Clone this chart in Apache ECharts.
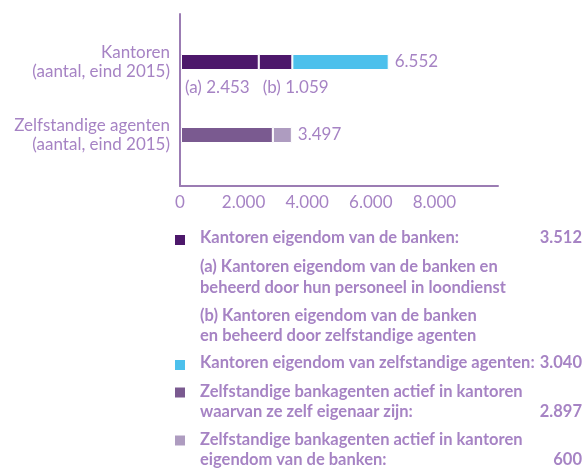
<!DOCTYPE html>
<html>
<head>
<meta charset="utf-8">
<script src="https://cdn.jsdelivr.net/npm/echarts@6/dist/echarts.min.js"></script>
<style>
  html, body { margin: 0; padding: 0; background: #fff; }
  #chart { width: 587px; height: 470px; }
</style>
</head>
<body>
<div id="chart"></div>
<script>
// data
const categories = ['Kantoren\n(aantal, eind 2015)', 'Zelfstandige agenten\n(aantal, eind 2015)']
const bankPersoneel = [2453, null]   // (a)
const bankAgenten = [1059, null]     // (b)
const eigenKantoren = [3040, null]
const agentenEigen = [null, 2897]
const agentenBank = [null, 600]
const xTicks = [0, 2000, 4000, 6000, 8000]

const legendLabels = [
  'Kantoren eigendom van de banken:',
  '(a) Kantoren eigendom van de banken en\nbeheerd door hun personeel in loondienst',
  '(b) Kantoren eigendom van de banken\nen beheerd door zelfstandige agenten',
  'Kantoren eigendom van zelfstandige agenten:',
  'Zelfstandige bankagenten actief in kantoren\nwaarvan ze zelf eigenaar zijn:',
  'Zelfstandige bankagenten actief in kantoren\neigendom van de banken:',
]

const colors = {
  dark: '#4d186b',
  blue: '#4cc0ec',
  mid: '#7a5a90',
  light: '#ae9cc0',
  text: '#a683c4',
  axis: '#9b7cb3',
}
const font = 'Lato'

// 1.234 notatie
function fmt(v) {
  return String(v).replace(/\B(?=(\d{3})+(?!\d))/g, '.')
}

const totals = categories.map((c, i) =>
  [bankPersoneel, bankAgenten, eigenKantoren, agentenEigen, agentenBank]
    .reduce((s, arr) => s + (arr[i] || 0), 0))

const legendValues = [
  fmt(bankPersoneel[0] + bankAgenten[0]),
  '',
  '',
  fmt(eigenKantoren[0]),
  fmt(agentenEigen[1]),
  fmt(agentenBank[1]),
]
const legendColors = [colors.dark, null, null, colors.blue, colors.mid, colors.light]
// positie van elke legendaregel (midden van tekstblok)
const legendY = [238, 277, 325.5, 363, 401.5, 449.5]

const graphic = []
legendLabels.forEach((label, i) => {
  const twoLines = label.indexOf('\n') >= 0
  if (legendColors[i]) {
    const boxY = twoLines ? legendY[i] - 9 : legendY[i] + 2
    graphic.push({
      type: 'rect',
      left: 175, top: boxY - 5,
      shape: { width: 10, height: 10 },
      style: { fill: legendColors[i] },
    })
  }
  graphic.push({
    type: 'text',
    x: 200, y: legendY[i],
    style: {
      text: label, fill: colors.text, font: 'bold 16.5px ' + font,
      lineHeight: 20.5, align: 'left', verticalAlign: 'middle',
    },
  })
  if (legendValues[i]) {
    graphic.push({
      type: 'text',
      x: 582, y: twoLines ? legendY[i] + 10 : legendY[i],
      style: {
        text: legendValues[i], fill: colors.text, font: 'bold 16.5px ' + font,
        align: 'right', verticalAlign: 'middle',
      },
    })
  }
})

function barSeries(name, data, color, extra) {
  return Object.assign({
    name: name,
    type: 'bar',
    stack: 'totaal',
    xAxisIndex: 1,
    yAxisIndex: 1,
    barWidth: 16,
    data: data,
    itemStyle: { color: color, borderColor: '#fff', borderWidth: 1 },
    emphasis: { disabled: true },
  }, extra || {})
}

const totalLabel = {
  show: true,
  position: 'right',
  distance: 6,
  color: colors.text,
  fontFamily: font,
  fontSize: 17,
  formatter: p => fmt(totals[p.dataIndex]),
}
const partLabel = prefix => ({
  show: true,
  position: [4, 25],
  color: colors.text,
  fontFamily: font,
  fontSize: 17,
  formatter: p => prefix + ' ' + fmt(p.value),
})

const option = {
  animation: false,
  backgroundColor: '#fff',
  textStyle: { fontFamily: font },
  grid: [
    // alleen assen
    { left: 180, right: 89, top: 14, bottom: 284 },
    // staven
    { left: 181, right: 89, top: 25.5, height: 146 },
  ],
  xAxis: [
    {
      gridIndex: 0,
      type: 'value',
      min: 0, max: 10000, interval: 2000,
      axisLine: { show: true, lineStyle: { color: colors.axis, width: 2 } },
      axisTick: { show: false },
      splitLine: { show: false },
      axisLabel: {
        color: colors.text, fontSize: 17, fontFamily: font, margin: 8,
        formatter: v => (xTicks.indexOf(v) >= 0 ? fmt(v) : ''),
      },
    },
    {
      gridIndex: 1,
      type: 'value',
      min: 0, max: 10000,
      show: false,
    },
  ],
  yAxis: [
    {
      gridIndex: 0,
      type: 'category',
      data: ['', ''],
      axisLine: { show: true, lineStyle: { color: colors.axis, width: 2 } },
      axisTick: { show: false },
      axisLabel: { show: false },
    },
    {
      gridIndex: 1,
      type: 'category',
      inverse: true,
      data: [
        { value: categories[0], textStyle: { padding: [9, 0, 0, 0] } },
        { value: categories[1], textStyle: { padding: [0, 0, 11, 0] } },
      ],
      axisLine: { show: false },
      axisTick: { show: false },
      axisLabel: {
        color: colors.text, fontSize: 17, fontFamily: font, margin: 11,
        lineHeight: 19, align: 'right',
      },
    },
  ],
  graphic: graphic,
  series: [
    barSeries('a', bankPersoneel, colors.dark, { label: partLabel('(a)') }),
    barSeries('b', bankAgenten, colors.dark, { label: partLabel('(b)') }),
    barSeries('eigen', eigenKantoren, colors.blue, { label: totalLabel }),
    barSeries('agenten eigen', agentenEigen, colors.mid),
    barSeries('agenten bank', agentenBank, colors.light, { label: totalLabel }),
  ],
}

const chart = echarts.init(document.getElementById('chart'))
chart.setOption(option)
</script>
</body>
</html>
